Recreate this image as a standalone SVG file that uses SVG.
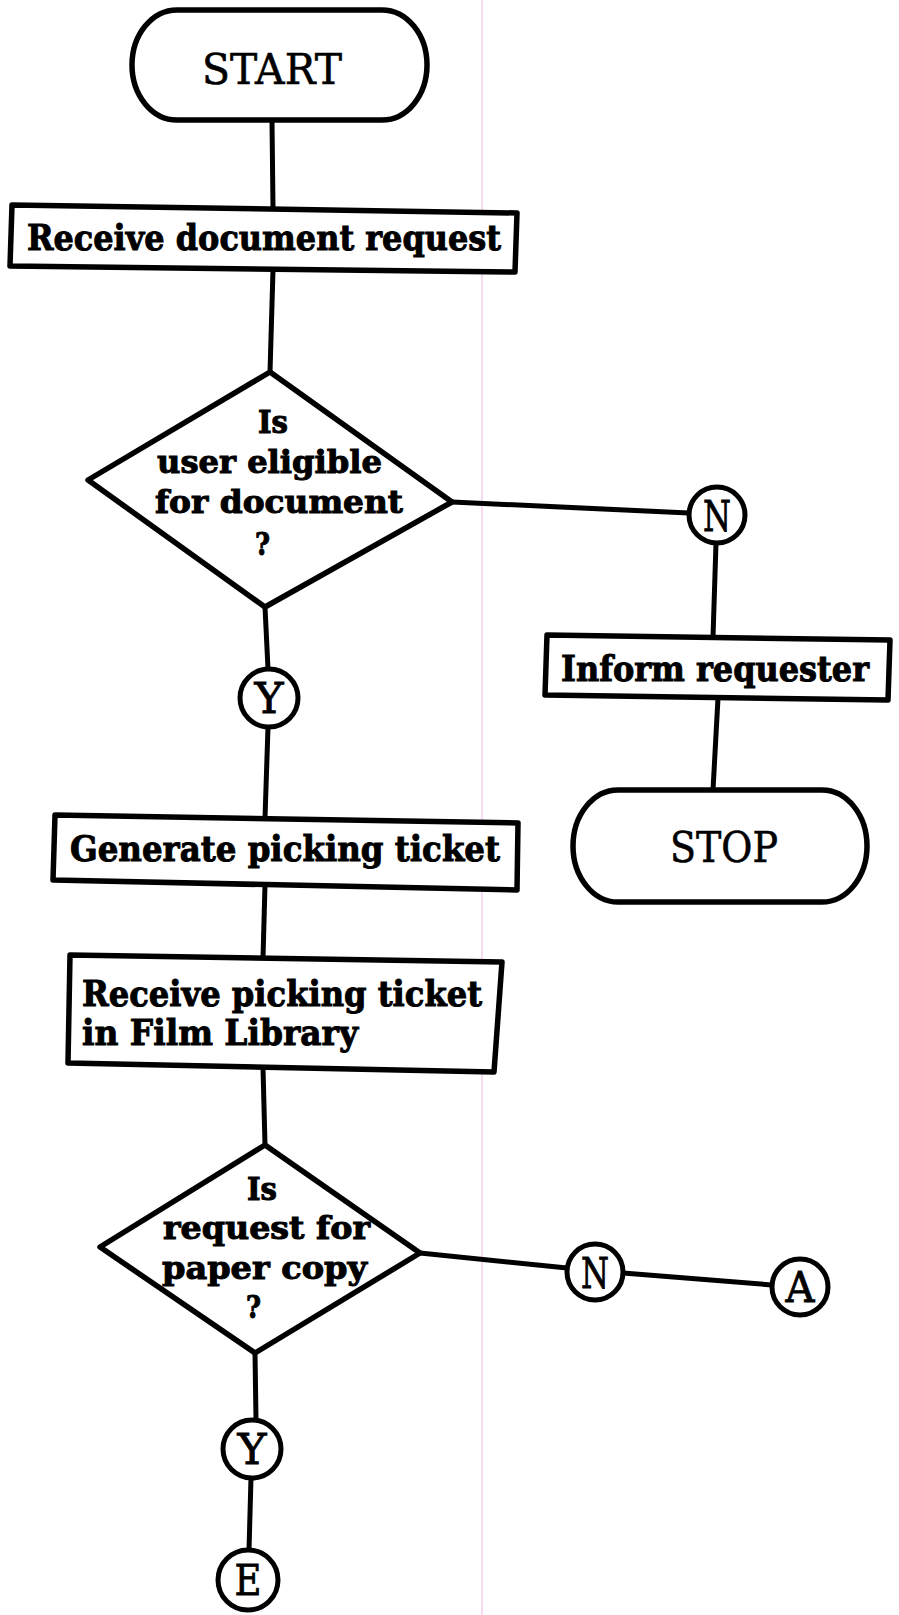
<svg xmlns="http://www.w3.org/2000/svg" width="899" height="1615" viewBox="0 0 899 1615">
  <style>
    .shape { fill: #fff; stroke: #000; stroke-width: 5.5; stroke-linejoin: round; }
    .ring { fill: #fff; stroke: #000; stroke-width: 5; }
    .wire { stroke: #000; stroke-width: 5; stroke-linecap: round; fill: none; }
    .lbl { font-family: "DejaVu Serif", "Liberation Serif", serif; font-weight: bold; font-size: 36px; fill: #000; stroke: #000; stroke-width: 1; }
    .ask { font-family: "DejaVu Serif", "Liberation Serif", serif; font-weight: bold; font-size: 31px; fill: #000; stroke: #000; stroke-width: 1; }
    .term { font-family: "DejaVu Serif", "Liberation Serif", serif; font-size: 43px; fill: #000; stroke: #000; stroke-width: 0.6; }
    .tag { font-family: "DejaVu Serif", "Liberation Serif", serif; font-size: 42px; fill: #000; stroke: #000; stroke-width: 0.8; text-anchor: middle; }
  </style>

  <rect width="899" height="1615" fill="#fff"/>
  <!-- faint vertical crease line on the sheet -->
  <line x1="482" y1="0" x2="482" y2="1615" stroke="#f4cdef" stroke-width="1.5"/>

  <g id="connectors">
    <line class="wire" x1="272" y1="121" x2="273" y2="208"/>
    <line class="wire" x1="273" y1="270" x2="270" y2="372"/>
    <line class="wire" x1="452" y1="502" x2="689" y2="513"/>
    <line class="wire" x1="716" y1="543" x2="713" y2="637"/>
    <line class="wire" x1="718" y1="698" x2="713" y2="790"/>
    <line class="wire" x1="265" y1="607" x2="268" y2="669"/>
    <line class="wire" x1="268" y1="727" x2="265" y2="818"/>
    <line class="wire" x1="265" y1="885" x2="263" y2="958"/>
    <line class="wire" x1="263" y1="1068" x2="265" y2="1145"/>
    <line class="wire" x1="420" y1="1253" x2="567" y2="1268"/>
    <line class="wire" x1="623" y1="1273" x2="772" y2="1285"/>
    <line class="wire" x1="255" y1="1353" x2="256" y2="1420"/>
    <line class="wire" x1="251" y1="1478" x2="249" y2="1550"/>
  </g>

  <g id="start">
    <rect class="shape" x="132" y="10" width="295" height="110" rx="45" ry="55"/>
    <text class="term" x="202" y="84" textLength="140" lengthAdjust="spacingAndGlyphs">START</text>
  </g>

  <g id="receive-request">
    <polygon class="shape" points="12,205 517,213 515,272 10,266"/>
    <text class="lbl" x="27" y="250" textLength="474" lengthAdjust="spacingAndGlyphs">Receive document request</text>
  </g>

  <g id="eligible">
    <polygon class="shape" points="270,372 452,502 265,607 88,480"/>
    <text class="ask" x="258" y="433" textLength="30" lengthAdjust="spacingAndGlyphs">Is</text>
    <text class="ask" x="157" y="473" textLength="225" lengthAdjust="spacingAndGlyphs">user eligible</text>
    <text class="ask" x="155" y="513" textLength="248" lengthAdjust="spacingAndGlyphs">for document</text>
    <text class="ask" x="255" y="555" textLength="15" lengthAdjust="spacingAndGlyphs">?</text>
  </g>

  <g id="no-1">
    <circle class="ring" cx="717" cy="515" r="28"/>
    <text class="tag" x="717" y="531" textLength="28" lengthAdjust="spacingAndGlyphs">N</text>
  </g>

  <g id="inform">
    <polygon class="shape" points="547,635 890,640 888,700 545,695"/>
    <text class="lbl" x="561" y="681" font-size="34" textLength="308" lengthAdjust="spacingAndGlyphs">Inform requester</text>
  </g>

  <g id="stop">
    <rect class="shape" x="573" y="790" width="294" height="112" rx="45" ry="56"/>
    <text class="term" x="670" y="862" textLength="108" lengthAdjust="spacingAndGlyphs">STOP</text>
  </g>

  <g id="yes-1">
    <circle class="ring" cx="269" cy="698" r="29"/>
    <text class="tag" x="269" y="713" textLength="29" lengthAdjust="spacingAndGlyphs">Y</text>
  </g>

  <g id="generate">
    <polygon class="shape" points="55,815 518,823 517,890 53,880"/>
    <text class="lbl" x="70" y="861" textLength="430" lengthAdjust="spacingAndGlyphs">Generate picking ticket</text>
  </g>

  <g id="receive-ticket">
    <polygon class="shape" points="70,955 502,962 494,1072 68,1063"/>
    <text class="lbl" x="82" y="1006" textLength="400" lengthAdjust="spacingAndGlyphs">Receive picking ticket</text>
    <text class="lbl" x="82" y="1045" textLength="276" lengthAdjust="spacingAndGlyphs">in Film Library</text>
  </g>

  <g id="paper-copy">
    <polygon class="shape" points="265,1145 420,1253 255,1353 100,1247"/>
    <text class="ask" x="247" y="1200" textLength="30" lengthAdjust="spacingAndGlyphs">Is</text>
    <text class="ask" x="163" y="1239" textLength="207" lengthAdjust="spacingAndGlyphs">request for</text>
    <text class="ask" x="162" y="1279" textLength="205" lengthAdjust="spacingAndGlyphs">paper copy</text>
    <text class="ask" x="246" y="1318" textLength="15" lengthAdjust="spacingAndGlyphs">?</text>
  </g>

  <g id="no-2">
    <circle class="ring" cx="595" cy="1272" r="28"/>
    <text class="tag" x="595" y="1288" textLength="28" lengthAdjust="spacingAndGlyphs">N</text>
  </g>

  <g id="connector-a">
    <circle class="ring" cx="800" cy="1287" r="28"/>
    <text class="tag" x="800" y="1302" textLength="29" lengthAdjust="spacingAndGlyphs">A</text>
  </g>

  <g id="yes-2">
    <circle class="ring" cx="252" cy="1449" r="29"/>
    <text class="tag" x="252" y="1464" textLength="29" lengthAdjust="spacingAndGlyphs">Y</text>
  </g>

  <g id="connector-e">
    <circle class="ring" cx="248" cy="1580" r="30"/>
    <text class="tag" x="248" y="1595" textLength="27" lengthAdjust="spacingAndGlyphs">E</text>
  </g>
</svg>
